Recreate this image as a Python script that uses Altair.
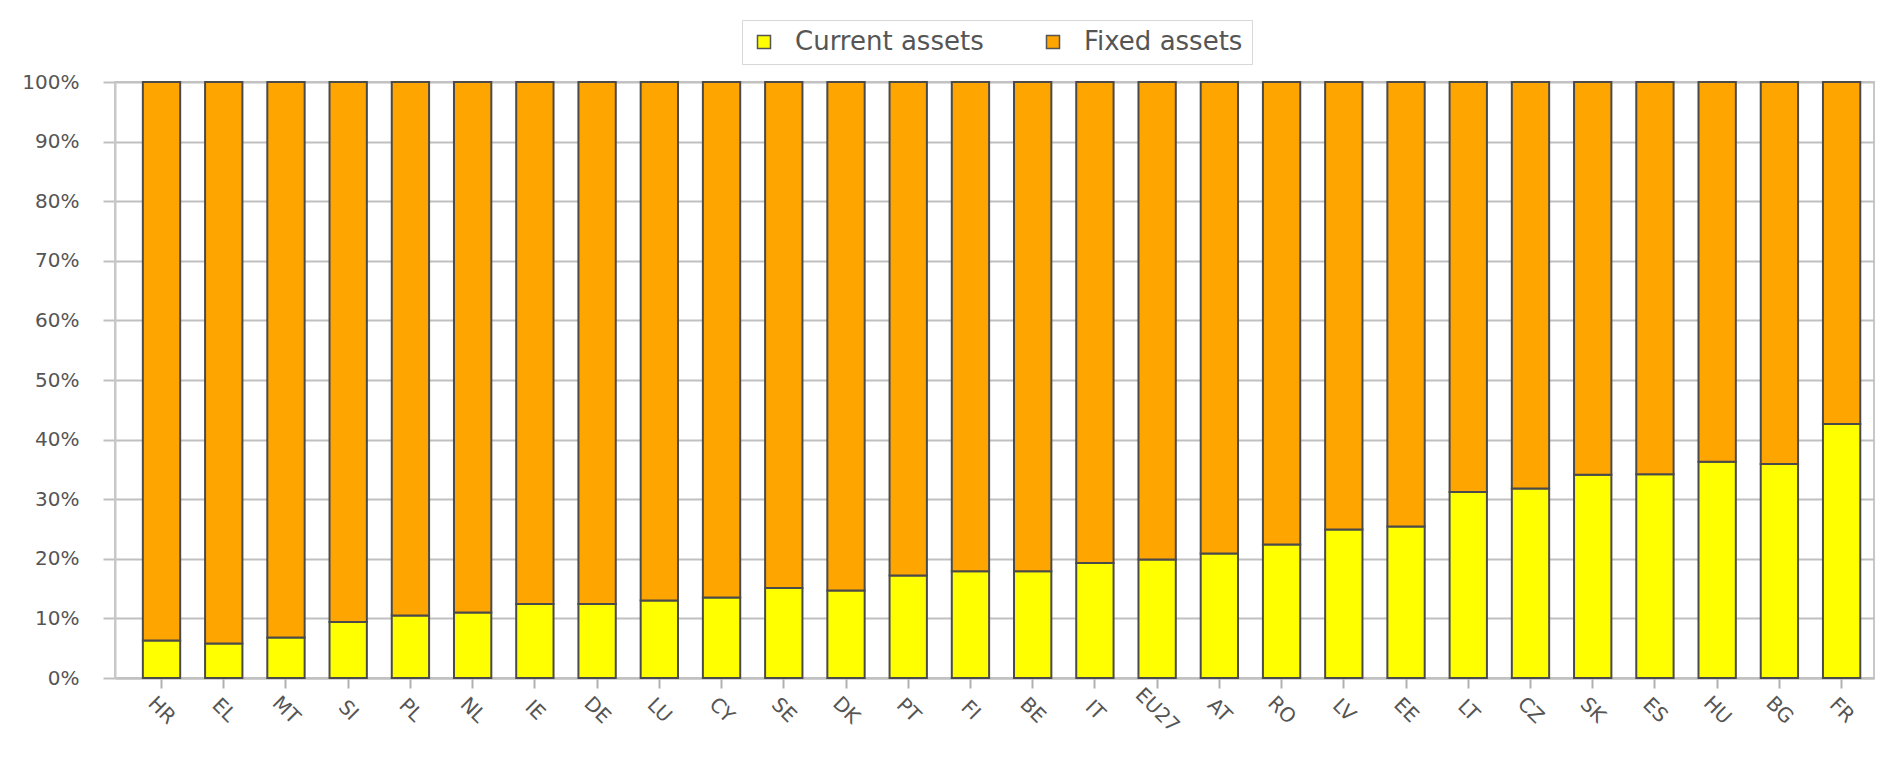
import altair as alt
import pandas as pd

countries = ["HR", "EL", "MT", "SI", "PL", "NL", "IE", "DE", "LU", "CY", "SE", "DK", "PT", "FI",
             "BE", "IT", "EU27", "AT", "RO", "LV", "EE", "LT", "CZ", "SK", "ES", "HU", "BG", "FR"]
current_assets = [6.3, 5.8, 6.8, 9.4, 10.5, 11.0, 12.4, 12.4, 13.0, 13.5, 15.1, 14.7, 17.2, 17.9,
                  17.9, 19.3, 19.9, 20.9, 22.4, 24.9, 25.4, 31.2, 31.8, 34.1, 34.2, 36.3, 35.9, 42.6]
fixed_assets = [93.7, 94.2, 93.2, 90.6, 89.5, 89.0, 87.6, 87.6, 87.0, 86.5, 84.9, 85.3, 82.8, 82.1,
                82.1, 80.7, 80.1, 79.1, 77.6, 75.1, 74.6, 68.8, 68.2, 65.9, 65.8, 63.7, 64.1, 57.4]
series = ["Current assets", "Fixed assets"]
colors = ["#FFFF00", "#FFA500"]
y_ticks = [0, 10, 20, 30, 40, 50, 60, 70, 80, 90, 100]

rows = []
for i, c in enumerate(countries):
    rows.append({"country": c, "series": series[0], "value": current_assets[i], "ord": 0})
    rows.append({"country": c, "series": series[1], "value": fixed_assets[i], "ord": 1})
df = pd.DataFrame(rows)

FONT = "DejaVu Sans"

chart = alt.Chart(df).mark_bar(stroke="#4a4a4a", strokeWidth=2).encode(
    x=alt.X("country:N", sort=countries, title=None,
            scale=alt.Scale(paddingInner=0.4, paddingOuter=0.334, align=0.67),
            axis=alt.Axis(labelAngle=45, labelAlign="center", labelBaseline="middle",
                          labelPadding=22, tickSize=10, tickColor="#b0b0b0", tickWidth=2,
                          domainColor="#c0c0c0", domainWidth=2, grid=False,
                          labelFont=FONT, labelFontSize=20, labelColor="#555555")),
    y=alt.Y("value:Q", stack="zero", title=None,
            scale=alt.Scale(domain=[0, 100], nice=False),
            axis=alt.Axis(values=y_ticks, labelExpr="datum.value + '%'", tickSize=12,
                          tickColor="#c0c0c0", tickWidth=2, gridColor="#c0c0c0", gridWidth=2,
                          domainColor="#c8c8c8", domainWidth=2, labelPadding=24,
                          labelFont=FONT, labelFontSize=20, labelColor="#555555")),
    color=alt.Color("series:N", title=None,
                    scale=alt.Scale(domain=series, range=colors),
                    legend=alt.Legend(orient="none", legendX=627, legendY=-62,
                                      direction="horizontal", strokeColor="#d8d8d8",
                                      fillColor="white", padding=9,
                                      labelFont=FONT, labelFontSize=26, labelColor="#555555",
                                      labelLimit=400,
                                      symbolType="square", symbolSize=169,
                                      symbolStrokeColor="#555555", symbolStrokeWidth=1.5,
                                      labelOffset=18, columnPadding=56)),
    order=alt.Order("ord:Q"),
).properties(
    width=1759,
    height=596,
    autosize=alt.AutoSizeParams(type="none"),
    padding={"left": 107, "top": 74, "right": 4, "bottom": 70},
    background="white",
).configure_view(stroke="#c8c8c8", strokeWidth=2)

chart.save("out.html", embed_options={"renderer": "svg", "actions": False})
